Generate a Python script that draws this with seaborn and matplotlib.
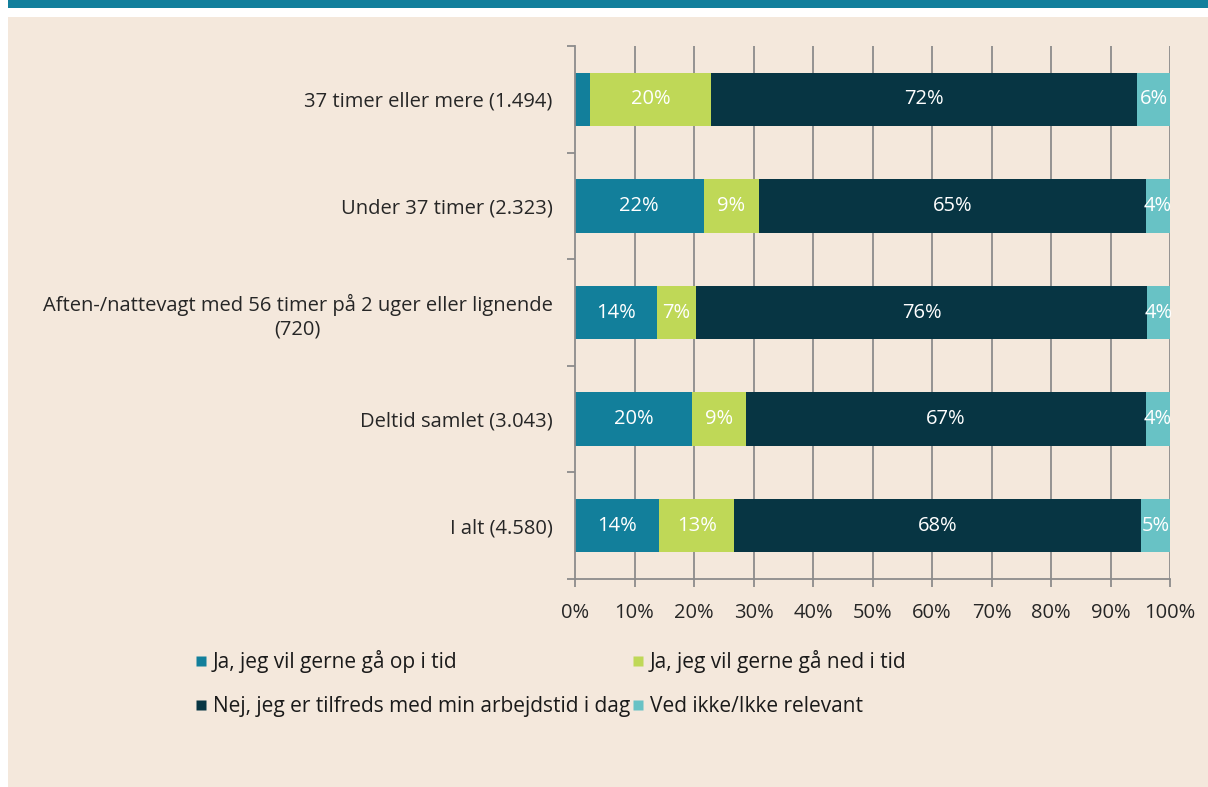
import matplotlib
matplotlib.use("Agg")
import matplotlib.pyplot as plt
import seaborn as sns
import pandas as pd
import numpy as np
from matplotlib.patches import Rectangle
from matplotlib.lines import Line2D

categories = [
    "37 timer eller mere (1.494)",
    "Under 37 timer (2.323)",
    "Aften-/nattevagt med 56 timer på 2 uger eller lignende\n(720)",
    "Deltid samlet (3.043)",
    "I alt (4.580)",
]
series_names = [
    "Ja, jeg vil gerne gå op i tid",
    "Ja, jeg vil gerne gå ned i tid",
    "Nej, jeg er tilfreds med min arbejdstid i dag",
    "Ved ikke/Ikke relevant",
]
op_i_tid = [2.5, 21.6, 13.7, 19.7, 14.1]
ned_i_tid = [20.4, 9.4, 6.7, 9.0, 12.7]
tilfreds = [71.6, 65.0, 75.8, 67.3, 68.4]
ved_ikke = [5.5, 4.0, 3.8, 4.0, 4.8]
x_ticks = [0, 10, 20, 30, 40, 50, 60, 70, 80, 90, 100]
x_tick_labels = ["0%", "10%", "20%", "30%", "40%", "50%", "60%", "70%", "80%", "90%", "100%"]

colors = ["#127f9b", "#bfd857", "#073543", "#68c2c5"]
BEIGE = "#f4e8dc"
GRID = "#8c8c8c"
FONT = ["Open Sans", "DejaVu Sans"]
FS = 14.5

sns.set_theme(style="white")
plt.rcParams["font.family"] = FONT
plt.rcParams["text.color"] = "#1a1a1a"

W, H = 1208, 787
fig = plt.figure(figsize=(W / 100, H / 100), dpi=100, facecolor="white")
# background decorations
fig.patches.append(Rectangle((8 / W, 0), 1 - 8 / W, 1 - 17 / H, transform=fig.transFigure,
                             facecolor=BEIGE, edgecolor="none", zorder=-2))
fig.patches.append(Rectangle((8 / W, 1 - 8 / H), 1 - 8 / W, 8 / H, transform=fig.transFigure,
                             facecolor="#127f9c", edgecolor="none", zorder=-2))

ax = fig.add_axes([575 / W, 1 - 579 / H, (1170 - 575) / W, (579 - 46) / H])
ax.set_facecolor(BEIGE)
ax.patch.set_alpha(0)

series = [op_i_tid, ned_i_tid, tilfreds, ved_ikke]
cum = np.cumsum(np.array(series), axis=0)
df = pd.DataFrame({"category": categories})
for i in range(4):
    df[f"cum{i}"] = cum[i]

for i in reversed(range(4)):
    sns.barplot(data=df, y="category", x=f"cum{i}", orient="h", color=colors[i],
                width=0.5, saturation=1, ax=ax, zorder=3, linewidth=0)

# labels
for j in range(len(categories)):
    left = 0
    for i in range(4):
        v = series[i][j]
        if v >= 3:
            ax.text(left + v / 2, j, f"{round(v):d}%", ha="center", va="center",
                    color="white", fontsize=FS, zorder=5)
        left += v

ax.set_xlim(0, 100)
ax.set_ylim(4.5, -0.5)
ax.set_xlabel("")
ax.set_ylabel("")
ax.set_xticks(x_ticks)
ax.set_xticklabels(x_tick_labels, fontsize=FS)
ax.set_yticks(range(len(categories)))
ax.set_yticklabels(categories, fontsize=FS, multialignment="center")
ax.set_yticks(np.arange(-0.5, 5.0, 1.0), minor=True)
ax.tick_params(axis="y", which="major", length=0, pad=16)
ax.tick_params(axis="y", which="minor", length=6, color=GRID, width=1.3, left=True)
ax.tick_params(axis="x", which="major", length=6, color=GRID, width=1.3, bottom=True, pad=11)

for x in x_ticks[1:]:
    ax.axvline(x, color=GRID, linewidth=1.3, zorder=1)
for s in ["top", "right"]:
    ax.spines[s].set_visible(False)
for s in ["left", "bottom"]:
    ax.spines[s].set_color(GRID)
    ax.spines[s].set_linewidth(1.3)
    ax.spines[s].set_zorder(4)

handles = [Line2D([0], [0], marker="s", linestyle="none", markersize=7.5,
                  markerfacecolor=c, markeredgecolor="none") for c in colors]
order = [0, 2, 1, 3]
fig.legend([handles[k] for k in order], [series_names[k] for k in order],
           ncol=2, loc="upper left", bbox_to_anchor=(195 / W, 1 - 650 / H),
           frameon=False, fontsize=15, handlelength=0.6, handletextpad=0.25,
           columnspacing=0.1, labelspacing=1.1, borderpad=0, borderaxespad=0)

fig.savefig("out.png", dpi=100, facecolor="white")
